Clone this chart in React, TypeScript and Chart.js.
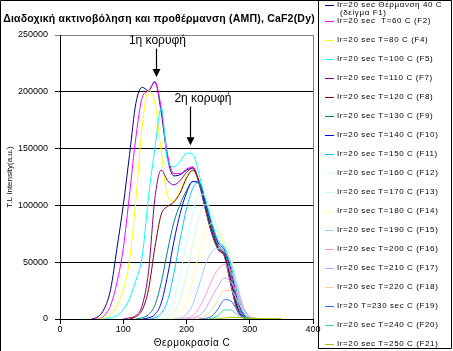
import React, { useEffect, useRef } from "react";
import { Chart, registerables } from "chart.js";

Chart.register(...registerables);

const FONT = '"Liberation Sans", Arial, sans-serif';
const W = 453;
const H = 351;

const chartTitle = "Διαδοχική ακτινοβόληση και προθέρμανση (ΑΜΠ), CaF2(Dy)";
const xAxisTitle = "Θερμοκρασία C";
const yAxisTitle = "T.L Intensity(a.u.)";
const peak1Label = "1η κορυφή";
const peak2Label = "2η κορυφή";

const xTickValues = [0, 100, 200, 300, 400];
const yTickValues = [0, 50000, 100000, 150000, 200000, 250000];

const temperatures = [50, 60, 70, 80, 90, 100, 110, 120, 130, 140, 150, 160, 170, 180, 190, 200, 210, 220, 230, 240, 250, 260, 270, 280, 290, 300, 310, 320, 330, 340, 350];

const f1 = [0, 2000, 9000, 26000, 62000, 100000, 145000, 190000, 204000, 201000, 209000, 182000, 142000, 126000, 127000, 131000, 133000, 119000, 96000, 75000, 61000, 55000, 30000, 8000, 1000, 0, 0, null, null, null, null];
const f2 = [0, 0, 3000, 12000, 32000, 62000, 110000, 160000, 195000, 201000, 208000, 186000, 145000, 128000, 128000, 132000, 134000, 120000, 98000, 77000, 62000, 56000, 32000, 9000, 1000, 0, 0, null, null, null, null];
const f4 = [null, 0, 1000, 4000, 12000, 26000, 52000, 105000, 170000, 201000, 190000, 148000, 108000, 104000, 113000, 126000, 131000, 120000, 98000, 77000, 62000, 56000, 33000, 10000, 1500, 0, 0, null, null, null, null];
const f5 = [null, null, 0, 1000, 3000, 8000, 18000, 34000, 55000, 108000, 150000, 186000, 140000, 134000, 139000, 146000, 145000, 127000, 102000, 80000, 64000, 58000, 36000, 12000, 2000, 0, 0, null, null, null, null];
const f7 = [null, null, null, null, null, 0, 1000, 3000, 12000, 42000, 106000, 131000, 122000, 118000, 122000, 129000, 133000, 120000, 98000, 77000, 62000, 56000, 34000, 10000, 1500, 0, 0, null, null, null, null];
const f8 = [null, null, null, null, null, null, 0, 2000, 8000, 26000, 63000, 92000, 99000, 103000, 111000, 124000, 131000, 121000, 99000, 78000, 63000, 57000, 35000, 11000, 2000, 0, 0, null, null, null, null];
const f9 = [null, null, null, null, null, null, null, 0, 1000, 4000, 12000, 32000, 60000, 85000, 101000, 113000, 121000, 119000, 101000, 80000, 65000, 59000, 40000, 14000, 3000, 0, 0, null, null, null, null];
const f10 = [null, null, null, null, null, null, null, null, 0, 1000, 4000, 14000, 38000, 68000, 93000, 111000, 121000, 120000, 103000, 83000, 67000, 61000, 44000, 18000, 4000, 500, 0, null, null, null, null];
const f11 = [null, null, null, null, null, null, null, null, null, 0, 1000, 5000, 16000, 40000, 70000, 97000, 115000, 120000, 105000, 85000, 69000, 63000, 48000, 23000, 6000, 1000, 0, null, null, null, null];
const f12 = [null, null, null, null, null, null, null, null, null, null, 0, 1000, 5000, 17000, 40000, 68000, 93000, 110000, 108000, 90000, 74000, 66000, 52000, 28000, 8000, 1500, 0, null, null, null, null];
const f13 = [null, null, null, null, null, null, null, null, null, null, null, 0, 1000, 5000, 17000, 40000, 66000, 90000, 101000, 93000, 79000, 68000, 55000, 31000, 10000, 2000, 0, null, null, null, null];
const f14 = [null, null, null, null, null, null, null, null, null, null, null, null, 0, 1000, 4000, 15000, 35000, 58000, 77000, 84000, 76000, 66000, 54000, 31000, 10000, 2000, 0, null, null, null, null];
const f15 = [null, null, null, null, null, null, null, null, null, null, null, null, null, 0, 1000, 4000, 13000, 30000, 48000, 59000, 62000, 60000, 50000, 30000, 10000, 2000, 0, null, null, null, null];
const f16 = [null, null, null, null, null, null, null, null, null, null, null, null, null, null, 0, 1000, 3000, 10000, 21000, 34000, 44000, 48000, 42000, 27000, 10000, 2500, 500, 0, null, null, null];
const f17 = [null, null, null, null, null, null, null, null, null, null, null, null, null, null, null, 0, 1000, 3000, 9000, 19000, 29000, 36000, 33000, 22000, 9000, 2000, 500, 0, null, null, null];
const f18 = [null, null, null, null, null, null, null, null, null, null, null, null, null, null, null, null, 0, 1000, 3000, 8000, 17000, 25000, 25000, 17000, 7000, 2000, 700, 400, 300, 200, 200];
const f19 = [null, null, null, null, null, null, null, null, null, null, null, null, null, null, null, null, null, 0, 500, 2500, 9000, 17000, 16000, 8000, 2500, 600, 0, null, null, null, null];
const f20 = [null, null, null, null, null, null, null, null, null, null, null, null, null, null, null, null, null, null, 0, 500, 3000, 8000, 8000, 4000, 1200, 300, 0, null, null, null, null];
const f21 = [null, null, null, null, null, null, null, null, null, null, null, null, null, null, null, null, null, null, null, 0, 300, 800, 1500, 1400, 1000, 700, 500, 400, 300, 300, 200];

const seriesValues = [f1, f2, f4, f5, f7, f8, f9, f10, f11, f12, f13, f14, f15, f16, f17, f18, f19, f20, f21];

const seriesLabels = [
  "Ir=20 sec Θέρμανση 40 C\n(δείγμα F1)",
  "Ir=20 sec  T=60 C (F2)",
  "Ir=20 sec T=80 C (F4)",
  "Ir=20 sec T=100 C (F5)",
  "Ir=20 sec T=110 C (F7)",
  "Ir=20 sec T=120 C (F8)",
  "Ir=20 sec T=130 C (F9)",
  "Ir=20 sec T=140 C (F10)",
  "Ir=20 sec T=150 C (F11)",
  "Ir=20 sec T=160 C (F12)",
  "Ir=20 sec T=170 C (F13)",
  "Ir=20 sec T=180 C (F14)",
  "Ir=20 sec T=190 C (F15)",
  "Ir=20 sec T=200 C (F16)",
  "Ir=20 sec T=210 C (F17)",
  "Ir=20 sec T=220 C (F18)",
  "Ir=20 T=230 sec C (F19)",
  "Ir=20 sec T=240 C (F20)",
  "Ir=20 sec T=250 C (F21)",
];

const seriesColors = [
  "#000080", "#FF00FF", "#FFFF00", "#00FFFF", "#800080", "#800000", "#008080", "#0000FF",
  "#00CCFF", "#CCFFFF", "#CCFFCC", "#FFFF99", "#99CCFF", "#FF99CC", "#CC99FF", "#FFCC99",
  "#3366FF", "#33CCCC", "#99CC00",
];

const decorPlugin = {
  id: "decor",
  afterDraw(chart: any) {
    const ctx = chart.ctx;
    const { top, bottom, right } = chart.chartArea;
    const xs = chart.scales.x;
    const ys = chart.scales.y;
    ctx.save();

    // plot area right border
    ctx.strokeStyle = "#808080";
    ctx.lineWidth = 1;
    const rx = Math.round(right) + 0.5;
    ctx.beginPath();
    ctx.moveTo(rx, top);
    ctx.lineTo(rx, bottom);
    ctx.stroke();

    // outer frame and legend box
    ctx.strokeStyle = "#000";
    ctx.beginPath();
    ctx.moveTo(0.5, H);
    ctx.lineTo(0.5, 0.5);
    ctx.lineTo(451.5, 0.5);
    ctx.lineTo(451.5, 348.5);
    ctx.lineTo(318.5, 348.5);
    ctx.lineTo(318.5, 0.5);
    ctx.stroke();

    ctx.fillStyle = "#000";
    // title
    ctx.font = `bold 10.5px ${FONT}`;
    ctx.textAlign = "center";
    ctx.textBaseline = "middle";
    (ctx as any).letterSpacing = "0.2px";
    ctx.fillText(chartTitle, 159, 19);

    // axis titles
    ctx.font = `10px ${FONT}`;
    (ctx as any).letterSpacing = "0.5px";
    ctx.fillText(xAxisTitle, 192, 343);
    ctx.save();
    ctx.translate(10, (top + bottom) / 2);
    ctx.rotate(-Math.PI / 2);
    ctx.font = `8px ${FONT}`;
    (ctx as any).letterSpacing = "0px";
    ctx.fillText(yAxisTitle, 0, 0);
    ctx.restore();

    // peak annotations
    (ctx as any).letterSpacing = "0px";
    const drawArrow = (t: number, fromV: number, toV: number) => {
      const x = Math.round(xs.getPixelForValue(t)) + 0.5;
      const y0 = ys.getPixelForValue(fromV);
      const y1 = ys.getPixelForValue(toV);
      ctx.strokeStyle = "#000";
      ctx.lineWidth = 1.2;
      ctx.beginPath();
      ctx.moveTo(x, y0);
      ctx.lineTo(x, y1 - 6);
      ctx.stroke();
      ctx.beginPath();
      ctx.moveTo(x - 4, y1 - 8);
      ctx.lineTo(x + 4, y1 - 8);
      ctx.lineTo(x, y1);
      ctx.closePath();
      ctx.fill();
    };
    ctx.font = `12px ${FONT}`;
    ctx.fillText(peak1Label, xs.getPixelForValue(154), ys.getPixelForValue(245000));
    drawArrow(152, 238000, 213000);
    ctx.fillText(peak2Label, xs.getPixelForValue(226), ys.getPixelForValue(194000));
    drawArrow(205, 187000, 153000);

    // legend
    ctx.font = `8px ${FONT}`;
    (ctx as any).letterSpacing = "0.6px";
    ctx.textAlign = "left";
    chart.data.datasets.forEach((ds: any, i: number) => {
      const y = i === 0 ? 5 : 21 + (i - 1) * 19;
      ctx.strokeStyle = ds.borderColor;
      ctx.lineWidth = 1;
      ctx.beginPath();
      ctx.moveTo(325, Math.round(y) + 0.5);
      ctx.lineTo(334, Math.round(y) + 0.5);
      ctx.stroke();
      const lines = String(ds.label).split("\n");
      lines.forEach((ln: string, k: number) => {
        ctx.fillStyle = "#000";
        ctx.fillText(ln, 337 + (k > 0 ? 3 : 0), y + k * 8);
      });
    });

    ctx.restore();
  },
};

export default function App() {
  const canvasRef = useRef<HTMLCanvasElement | null>(null);

  useEffect(() => {
    const canvas = canvasRef.current;
    if (!canvas) return;
    const datasets = seriesValues.map((vals, i) => ({
      label: seriesLabels[i],
      data: temperatures.map((t, j) => ({ x: t, y: vals[j] })),
      borderColor: seriesColors[i],
      backgroundColor: seriesColors[i],
      borderWidth: 1,
      pointRadius: 0,
      fill: false,
      cubicInterpolationMode: "monotone" as const,
      spanGaps: false,
      order: -i,
    }));

    const chart = new Chart(canvas, {
      type: "line",
      data: { datasets },
      options: {
        responsive: false,
        animation: false,
        layout: { padding: { left: 0, top: 35, right: 140, bottom: 0 } },
        plugins: {
          legend: { display: false },
          tooltip: { enabled: false },
          title: { display: false },
        },
        scales: {
          x: {
            type: "linear",
            min: 0,
            max: 400,
            afterBuildTicks: (s: any) => {
              s.ticks = xTickValues.map((v) => ({ value: v }));
            },
            afterFit: (s: any) => {
              s.height = 32;
            },
            grid: { drawOnChartArea: false, drawTicks: true, tickLength: 5, color: "#000" },
            border: { color: "#000", width: 1 },
            ticks: {
              font: { family: FONT, size: 9 },
              color: "#000",
              padding: 0,
              maxRotation: 0,
              autoSkip: false,
              callback: (v: any) => String(v),
            },
          },
          y: {
            type: "linear",
            min: 0,
            max: 250000,
            afterBuildTicks: (s: any) => {
              s.ticks = yTickValues.map((v) => ({ value: v }));
            },
            afterFit: (s: any) => {
              s.width = 60;
            },
            grid: {
              drawTicks: true,
              tickLength: 5,
              color: (c: any) => (c.tick && c.tick.value === 250000 ? "#808080" : "#000"),
            },
            border: { color: "#000", width: 1 },
            ticks: {
              font: { family: FONT, size: 9 },
              color: "#000",
              padding: 7,
              callback: (v: any) => String(v),
            },
          },
        },
      },
      plugins: [decorPlugin],
    });
    return () => chart.destroy();
  }, []);

  return (
    <div style={{ position: "fixed", left: 0, top: 0, width: W, height: H, background: "#fff" }}>
      <canvas ref={canvasRef} width={W} height={H} style={{ display: "block", width: W, height: H }} />
    </div>
  );
}
